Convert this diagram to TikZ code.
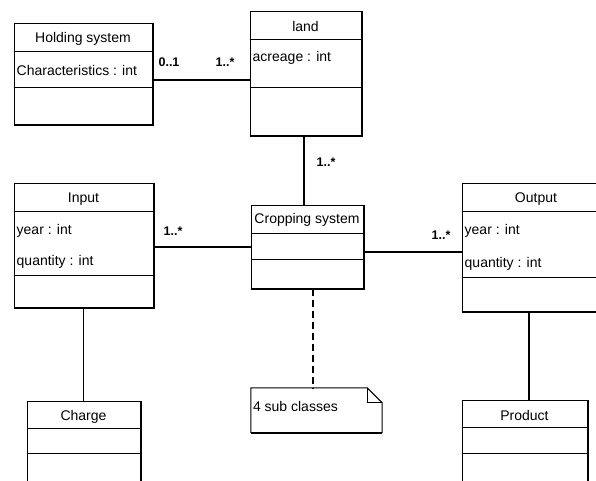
\documentclass[tikz,border=0pt]{standalone}
\usepackage{fontspec}
\setmainfont{Liberation Sans}
\usetikzlibrary{calc,shadows}
\tikzset{
  cls/.style={draw=black, line width=1pt, fill=white, rectangle, inner sep=0pt,
    drop shadow={shadow xshift=2pt, shadow yshift=-2pt, fill=gray!85, opacity=1}},
  ttl/.style={font=\fontsize{14}{16}\selectfont, inner sep=0pt},
  attr/.style={font=\fontsize{14}{16}\selectfont, inner sep=0pt, anchor=west},
  mult/.style={font=\fontsize{12.5}{14}\selectfont\bfseries, inner sep=0pt},
  divider/.style={line width=1.3pt},
  heavyedge/.style={line width=2pt},
  strong/.style={line width=2.6pt},
  plain/.style={line width=1.5pt},
  notelink/.style={line width=2pt, dash pattern=on 7pt off 4pt}
}
\newcommand{\heavyside}[1]{\draw[heavyedge] (#1.north east) -- (#1.south east) -- (#1.south west);}
\newcommand{\compline}[2]{\draw[divider] ([yshift=-#2pt]#1.north west) -- ([yshift=-#2pt]#1.north east);}
\begin{document}
\begin{tikzpicture}[x=1pt,y=-1pt]
\useasboundingbox (0,0) rectangle (596,480);
\clip (0,0) rectangle (596,480);
\fill[white] (0,0) rectangle (596,480);

% class boxes
\node[cls, minimum width=138pt, minimum height=101pt] (hold) at (83,73.5) {};
\node[cls, minimum width=111pt, minimum height=124pt] (land) at (305.5,73) {};
\node[cls, minimum width=139pt, minimum height=124pt] (input) at (83.5,245) {};
\node[cls, minimum width=112pt, minimum height=83pt] (crop) at (307,246.5) {};
\node[cls, minimum width=148pt, minimum height=128pt] (output) at (536,247) {};
\node[cls, minimum width=113pt, minimum height=99pt] (charge) at (83.5,450.5) {};
\node[cls, minimum width=125pt, minimum height=100pt] (product) at (524.5,450) {};

\foreach \n in {hold,land,input,crop,output,charge,product} {\heavyside{\n}}

% compartments
\compline{hold}{29}  \compline{hold}{65}
\compline{land}{29}  \compline{land}{77}
\compline{input}{29} \compline{input}{93}
\compline{crop}{29}  \compline{crop}{55}
\compline{output}{29} \compline{output}{95}
\compline{charge}{28} \compline{charge}{53}
\compline{product}{28} \compline{product}{54}

% class names
\node[ttl] at ($(hold.north)+(0,16.5)$) {Holding system};
\node[ttl] at ($(land.north)+(0,16)$) {land};
\node[ttl] at ($(input.north)+(0,17)$) {Input};
\node[ttl] at ($(crop.north)+(0,15.5)$) {Cropping system};
\node[ttl] at ($(output.north)+(0,17)$) {Output};
\node[ttl] at ($(charge.north)+(0,16)$) {Charge};
\node[ttl] at ($(product.north)+(0,16)$) {Product};

% attributes
\node[attr] at ($(hold.north west)+(3,48)$) {Characteristics : int};
\node[attr] at ($(land.north west)+(3,47.5)$) {acreage : int};
\node[attr] at ($(input.north west)+(3,48)$) {year : int};
\node[attr] at ($(input.north west)+(3,79)$) {quantity : int};
\node[attr] at ($(output.north west)+(3,48)$) {year : int};
\node[attr] at ($(output.north west)+(3,81)$) {quantity : int};

% note
\node[minimum width=131pt, minimum height=45pt, inner sep=0pt] (note) at (316.5,410.5) {};
\fill[white] (note.north west) -- ($(note.north east)+(-15,0)$) -- ($(note.north east)+(0,15)$)
  -- (note.south east) -- (note.south west) -- cycle;
\draw[line width=1pt] (note.south west) -- (note.north west) -- ($(note.north east)+(-15,0)$)
  -- ($(note.north east)+(0,15)$) -- (note.south east);
\draw[heavyedge] (note.south east) -- (note.south west);
\draw[line width=1pt] ($(note.north east)+(-15,0)$) -- ($(note.north east)+(-15,15)$) -- ($(note.north east)+(0,15)$);
\draw[line width=0.6pt, densely dotted] ($(note.north east)+(-15,0)$) -- ($(note.north east)+(0,15)$);
\node[attr] at ($(note.north west)+(2,18.5)$) {4 sub classes};

% associations
\draw[strong] ([yshift=-6.5pt]hold.east) -- ([yshift=-6.5pt]hold.east -| land.west);
\node[mult] at (169,62) {0..1};
\node[mult] at (225,62) {1..*};

\draw[strong] ([xshift=-1.5pt]land.south) -- ([xshift=-1.5pt]land.south |- crop.north);
\node[mult] at (326,162) {1..*};

\draw[strong] ([yshift=-2pt]input.east) -- ([yshift=-2pt]input.east -| crop.west);
\node[mult] at (173,231) {1..*};

\draw[plain] ([yshift=-5.5pt]crop.east) -- ([yshift=-5.5pt]crop.east -| output.west);
\node[mult] at (441,235) {1..*};

\draw[plain] (input.south) -- (input.south |- charge.north);
\draw[plain] ([xshift=-7pt]output.south) -- ([xshift=-7pt]output.south |- product.north);

\draw[notelink] ([xshift=6pt]crop.south) -- ([xshift=6pt]crop.south |- note.north);
\end{tikzpicture}
\end{document}
